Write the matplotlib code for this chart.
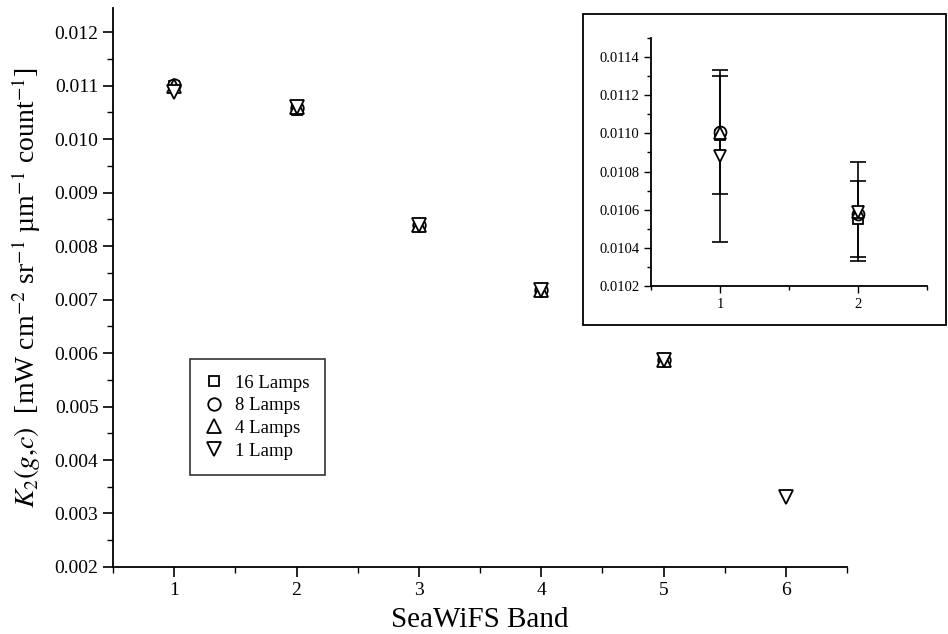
import matplotlib
matplotlib.use("Agg")
from matplotlib import pyplot as plt
from matplotlib.patches import Rectangle
from matplotlib.ticker import MultipleLocator, FormatStrFormatter

plt.rcParams["font.family"] = ["Liberation Serif", "DejaVu Serif"]
plt.rcParams["mathtext.fontset"] = "stix"

# data
bands = [1, 2, 3, 4, 5]
k2_16 = [0.01099, 0.01055, 0.00840, 0.00718, 0.00587]
k2_8 = [0.01101, 0.01058, 0.00840, 0.00718, 0.00587]
k2_4 = [0.01100, 0.01059, 0.00840, 0.00718, 0.00587]
bands_1 = [1, 2, 3, 4, 5, 6]
k2_1 = [0.01088, 0.01059, 0.00840, 0.00718, 0.00587, 0.00331]

# inset: bands 1-2 with uncertainties
inset_bands = [1, 2]
err_16 = [0.00031, 0.00020]
err_1 = [0.00045, 0.00026]

series = [
    ("16 Lamps", bands, k2_16, "s", 7.5),
    ("8 Lamps", bands, k2_8, "o", 9),
    ("4 Lamps", bands, k2_4, "^", 9.5),
    ("1 Lamp", bands_1, k2_1, "v", 9.5),
]

fig = plt.figure(figsize=(9.48, 6.34), dpi=100)
ax = fig.add_axes([0.1192, 0.1057, 0.7743, 0.8817])

for lab, x, y, m, ms in series:
    ax.plot(x, y, linestyle="none", marker=m, markersize=ms, markerfacecolor="white",
            markeredgecolor="black", markeredgewidth=1.3, label=lab)

ax.set_xlim(0.5, 6.5)
ax.set_ylim(0.002, 0.01245)
ax.xaxis.set_major_locator(MultipleLocator(1))
ax.xaxis.set_minor_locator(MultipleLocator(0.5))
ax.yaxis.set_major_locator(MultipleLocator(0.001))
ax.yaxis.set_minor_locator(MultipleLocator(0.0005))
ax.yaxis.set_major_formatter(FormatStrFormatter("%.3f"))
ax.spines["top"].set_visible(False)
ax.spines["right"].set_visible(False)
for sp in ("left", "bottom"):
    ax.spines[sp].set_linewidth(1.3)
ax.tick_params(which="major", direction="out", length=7, width=1.2, labelsize=14)
ax.tick_params(which="minor", direction="out", length=4, width=1.0)
ax.set_xlabel("SeaWiFS Band", fontsize=21, labelpad=6)
ax.set_ylabel("$K_2(g{,}c)$  [mW cm$^{-2}$ sr$^{-1}$ µm$^{-1}$ count$^{-1}$]", fontsize=20, labelpad=8)

leg = ax.legend(loc="lower left", bbox_to_anchor=(0.105, 0.165), fontsize=13.5, frameon=True,
                fancybox=False, edgecolor="black", handlelength=1.0, handletextpad=0.6,
                labelspacing=0.3, borderpad=0.8, borderaxespad=0)
leg.get_frame().set_linewidth(1.2)

# inset box and axes
fig.patches.append(Rectangle((0.615, 0.4874), 0.383, 0.4905, transform=fig.transFigure,
                             fill=False, edgecolor="black", linewidth=1.3))
axi = fig.add_axes([0.6867, 0.5489, 0.2911, 0.3911])
axi.errorbar(inset_bands, k2_16[:2], yerr=err_16, fmt="none", ecolor="black", elinewidth=1.2,
             capsize=6, capthick=1.2)
axi.errorbar(inset_bands, k2_1[:2], yerr=err_1, fmt="none", ecolor="black", elinewidth=1.2,
             capsize=6, capthick=1.2)
for lab, x, y, m, ms in series:
    axi.plot(x[:2], y[:2], linestyle="none", marker=m, markersize=ms * 0.95, markerfacecolor="white",
             markeredgecolor="black", markeredgewidth=1.3)
axi.set_xlim(0.5, 2.5)
axi.set_ylim(0.0102, 0.0115)
axi.xaxis.set_major_locator(MultipleLocator(1))
axi.xaxis.set_minor_locator(MultipleLocator(0.5))
axi.yaxis.set_major_locator(MultipleLocator(0.0002))
axi.yaxis.set_minor_locator(MultipleLocator(0.0001))
axi.yaxis.set_major_formatter(FormatStrFormatter("%.4f"))
axi.spines["top"].set_visible(False)
axi.spines["right"].set_visible(False)
for sp in ("left", "bottom"):
    axi.spines[sp].set_linewidth(1.3)
axi.tick_params(which="major", direction="out", length=5, width=1.0, labelsize=10.5)
axi.tick_params(which="minor", direction="out", length=3, width=1.0)

plt.savefig("out.png", dpi=100)
